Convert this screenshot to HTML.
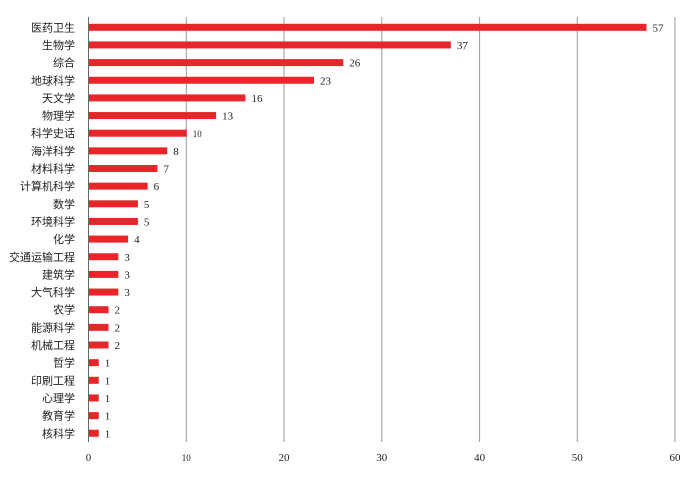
<!DOCTYPE html>
<html><head><meta charset="utf-8"><style>body{margin:0;background:#fff}</style></head><body>
<svg width="700" height="477" xmlns="http://www.w3.org/2000/svg">
<g stroke="#999" stroke-width="1">
<line x1="186.3" y1="17" x2="186.3" y2="442"/>
<line x1="284" y1="17" x2="284" y2="442"/>
<line x1="381.8" y1="17" x2="381.8" y2="442"/>
<line x1="479.6" y1="17" x2="479.6" y2="442"/>
<line x1="577.3" y1="17" x2="577.3" y2="442"/>
<line x1="675" y1="17" x2="675" y2="442"/>
</g>
<line x1="88.5" y1="17" x2="88.5" y2="442" stroke="#666" stroke-width="1"/>
<g id="bars" fill="#e8262a"></g>
<g id="lab" font-family="Liberation Serif, Noto Serif CJK SC, serif" font-size="11" fill="#222"></g>
<g font-family="Liberation Serif, serif" font-size="11" fill="#222" text-anchor="middle">
<text x="88.5" y="461">0</text><text x="186.3" y="461" font-size="9">10</text><text x="284" y="461">20</text><text x="381.8" y="461">30</text><text x="479.6" y="461">40</text><text x="577.3" y="461">50</text><text x="675" y="461">60</text>
</g>
<script>
var d=[["医药卫生",57],["生物学",37],["综合",26],["地球科学",23],["天文学",16],["物理学",13],["科学史话",10],["海洋科学",8],["材料科学",7],["计算机科学",6],["数学",5],["环境科学",5],["化学",4],["交通运输工程",3],["建筑学",3],["大气科学",3],["农学",2],["能源科学",2],["机械工程",2],["哲学",1],["印刷工程",1],["心理学",1],["教育学",1],["核科学",1]];
var ns="http://www.w3.org/2000/svg",b=document.getElementById("bars"),l=document.getElementById("lab");
d.forEach(function(r,i){var y=27.3+i*17.65,w=r[1]*9.78;
var e=document.createElementNS(ns,"rect");e.setAttribute("x",89);e.setAttribute("y",y-3.5);e.setAttribute("width",w);e.setAttribute("height",7);b.appendChild(e);
var t=document.createElementNS(ns,"text");t.setAttribute("x",75);t.setAttribute("y",y+4);t.setAttribute("text-anchor","end");t.setAttribute("font-family","Noto Sans CJK SC, sans-serif");t.setAttribute("font-size","11");t.textContent=r[0];l.appendChild(t);
var v=document.createElementNS(ns,"text");v.setAttribute("x",89+w+6);v.setAttribute("y",y+4);if(r[1]==10)v.setAttribute("font-size","9");v.textContent=r[1];l.appendChild(v);});
</script>
</svg>
</body></html>
